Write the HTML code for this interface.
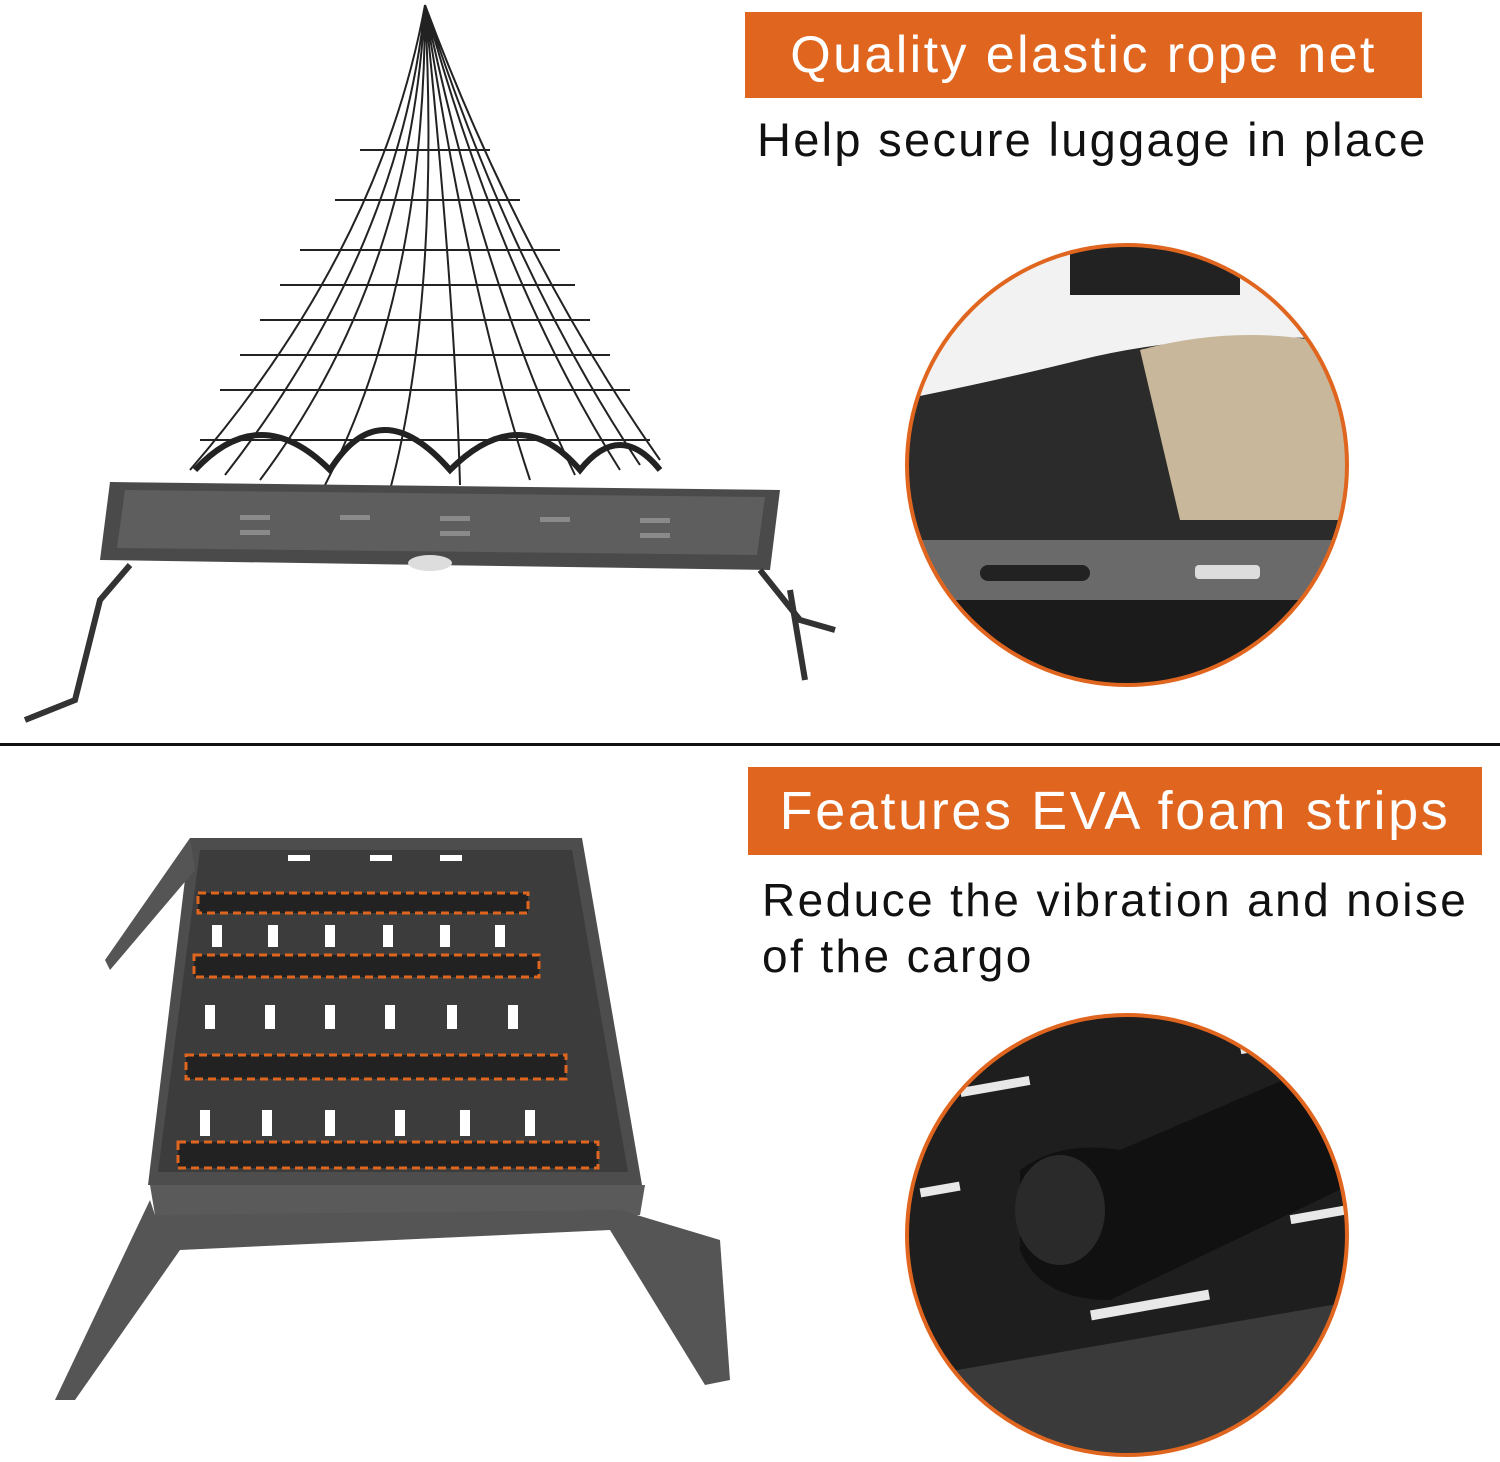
<!DOCTYPE html>
<html><head><meta charset="utf-8"><style>
html,body{margin:0;padding:0;background:#fff;}
body{width:1500px;height:1462px;position:relative;overflow:hidden;font-family:"Liberation Sans","DejaVu Sans",sans-serif;}
.bar{position:absolute;background:#e0661f;color:#fff;font-weight:normal;display:flex;align-items:center;justify-content:center;}
.t{position:absolute;color:#111;}
</style></head><body>
<div class="bar" style="left:745px;top:12px;width:677px;height:86px;font-size:52px;letter-spacing:2.4px;">Quality elastic rope net</div>
<div class="t" style="left:757px;top:112px;font-size:47px;letter-spacing:2.3px;">Help secure luggage in place</div>
<div class="bar" style="left:748px;top:767px;width:734px;height:88px;font-size:54px;letter-spacing:2.6px;">Features EVA foam strips</div>
<div class="t" style="left:762px;top:872px;font-size:46px;line-height:56px;letter-spacing:2.4px;">Reduce the vibration and noise<br>of the cargo</div>
<div style="position:absolute;left:0;top:743px;width:1500px;height:3px;background:#111;"></div>
<svg width="1500" height="1462" style="position:absolute;left:0;top:0">
<defs>
<clipPath id="c1"><circle cx="1127" cy="465" r="220"/></clipPath>
<clipPath id="c2"><circle cx="1127" cy="1235" r="220"/></clipPath>
</defs>
<g clip-path="url(#c1)">
<rect x="900" y="240" width="460" height="450" fill="#f2f2f2"/>
<rect x="1070" y="245" width="170" height="50" fill="#222"/>
<path d="M900 400 Q1000 380 1080 360 Q1200 330 1360 340 L1360 560 L900 560Z" fill="#2b2b2b"/>
<path d="M1140 350 Q1250 320 1360 350 L1360 520 L1180 520Z" fill="#c8b79a"/>
<rect x="900" y="540" width="460" height="60" fill="#6a6a6a"/>
<rect x="900" y="600" width="460" height="90" fill="#1b1b1b"/>
<rect x="980" y="565" width="110" height="16" rx="8" fill="#222"/>
<rect x="1195" y="565" width="65" height="14" rx="4" fill="#ddd"/>
</g>
<circle cx="1127" cy="465" r="220" fill="none" stroke="#e0661f" stroke-width="4"/>
<g clip-path="url(#c2)">
<rect x="900" y="1010" width="460" height="450" fill="#1e1e1e"/>
<path d="M900 1380 L1360 1300 L1360 1460 L900 1460Z" fill="#3a3a3a"/>
<g fill="#e8e8e8">
<rect x="960" y="1082" width="70" height="9" transform="rotate(-10 995 1086)"/>
<rect x="1240" y="1040" width="60" height="9" transform="rotate(-10 1270 1044)"/>
<rect x="920" y="1185" width="40" height="9" transform="rotate(-10 940 1189)"/>
<rect x="1150" y="1150" width="70" height="9" transform="rotate(-10 1185 1154)"/>
<rect x="1290" y="1210" width="60" height="9" transform="rotate(-10 1320 1214)"/>
<rect x="1090" y="1300" width="120" height="10" transform="rotate(-10 1150 1305)"/>
</g>
<path d="M1020 1170 Q1060 1140 1120 1150 L1330 1060 L1360 1180 L1110 1300 Q1040 1300 1020 1250Z" fill="#111"/>
<ellipse cx="1060" cy="1210" rx="45" ry="55" fill="#2a2a2a"/>
</g>
<circle cx="1127" cy="1235" r="220" fill="none" stroke="#e0661f" stroke-width="4"/>
<g stroke="#222" fill="none" stroke-width="2">
<path d="M425 5 Q380 250 190 470 M425 5 Q410 280 260 480 M425 5 Q440 300 390 490 M425 5 Q470 300 530 480 M425 5 Q500 280 620 470 M425 5 Q520 260 660 460 M425 5 Q400 250 225 475 M425 5 Q425 290 325 485 M425 5 Q455 300 460 485 M425 5 Q485 290 575 475 M425 5 Q510 270 640 465"/>
<path d="M360 150 L490 150 M335 200 L520 200 M300 250 L560 250 M280 285 L575 285 M260 320 L590 320 M240 355 L610 355 M220 390 L630 390 M200 440 L650 440"/>
<path d="M195 470 Q260 400 330 470 Q380 390 450 470 Q520 400 580 470 Q620 420 660 470" stroke-width="6"/>
</g>
<polygon points="110,482 780,490 770,570 100,560" fill="#4a4a4a"/>
<polygon points="125,490 765,497 757,555 117,548" fill="#5e5e5e"/>
<g fill="#8a8a8a">
<rect x="240" y="515" width="30" height="5"/><rect x="340" y="515" width="30" height="5"/><rect x="440" y="516" width="30" height="5"/><rect x="540" y="517" width="30" height="5"/><rect x="640" y="518" width="30" height="5"/>
<rect x="240" y="530" width="30" height="5"/><rect x="440" y="531" width="30" height="5"/><rect x="640" y="533" width="30" height="5"/>
</g>
<ellipse cx="430" cy="563" rx="22" ry="8" fill="#ddd"/>
<g stroke="#333" stroke-width="6" fill="none">
<path d="M130 565 L100 600 L75 700 L25 720"/>
<path d="M760 570 L800 620 L835 630"/>
<path d="M790 590 L805 680"/>
</g>
<polygon points="190,838 582,838 642,1185 148,1185" fill="#4d4d4d"/>
<polygon points="200,850 572,850 628,1172 158,1172" fill="#3c3c3c"/>
<polygon points="150,1185 645,1185 640,1215 155,1215" fill="#5a5a5a"/>
<polygon points="155,1215 620,1210 720,1240 730,1380 705,1385 610,1230 180,1250 75,1400 55,1400 150,1200" fill="#555"/>
<polygon points="190,838 105,960 110,970 195,870" fill="#555"/>
<g fill="#fff">
<rect x="212" y="925" width="10" height="22"/><rect x="268" y="925" width="10" height="22"/><rect x="325" y="925" width="10" height="22"/><rect x="383" y="925" width="10" height="22"/><rect x="440" y="925" width="10" height="22"/><rect x="495" y="925" width="10" height="22"/>
<rect x="205" y="1005" width="10" height="24"/><rect x="265" y="1005" width="10" height="24"/><rect x="325" y="1005" width="10" height="24"/><rect x="385" y="1005" width="10" height="24"/><rect x="447" y="1005" width="10" height="24"/><rect x="508" y="1005" width="10" height="24"/>
<rect x="200" y="1110" width="10" height="26"/><rect x="262" y="1110" width="10" height="26"/><rect x="325" y="1110" width="10" height="26"/><rect x="395" y="1110" width="10" height="26"/><rect x="460" y="1110" width="10" height="26"/><rect x="525" y="1110" width="10" height="26"/>
<rect x="288" y="855" width="22" height="6"/><rect x="370" y="855" width="22" height="6"/><rect x="440" y="855" width="22" height="6"/>
</g>
<g fill="#222" stroke="#e0661f" stroke-width="3" stroke-dasharray="8,5">
<rect x="198" y="893" width="330" height="20"/>
<rect x="194" y="955" width="345" height="22"/>
<rect x="186" y="1055" width="380" height="24"/>
<rect x="178" y="1142" width="420" height="26"/>
</g>
</svg>
</body></html>
